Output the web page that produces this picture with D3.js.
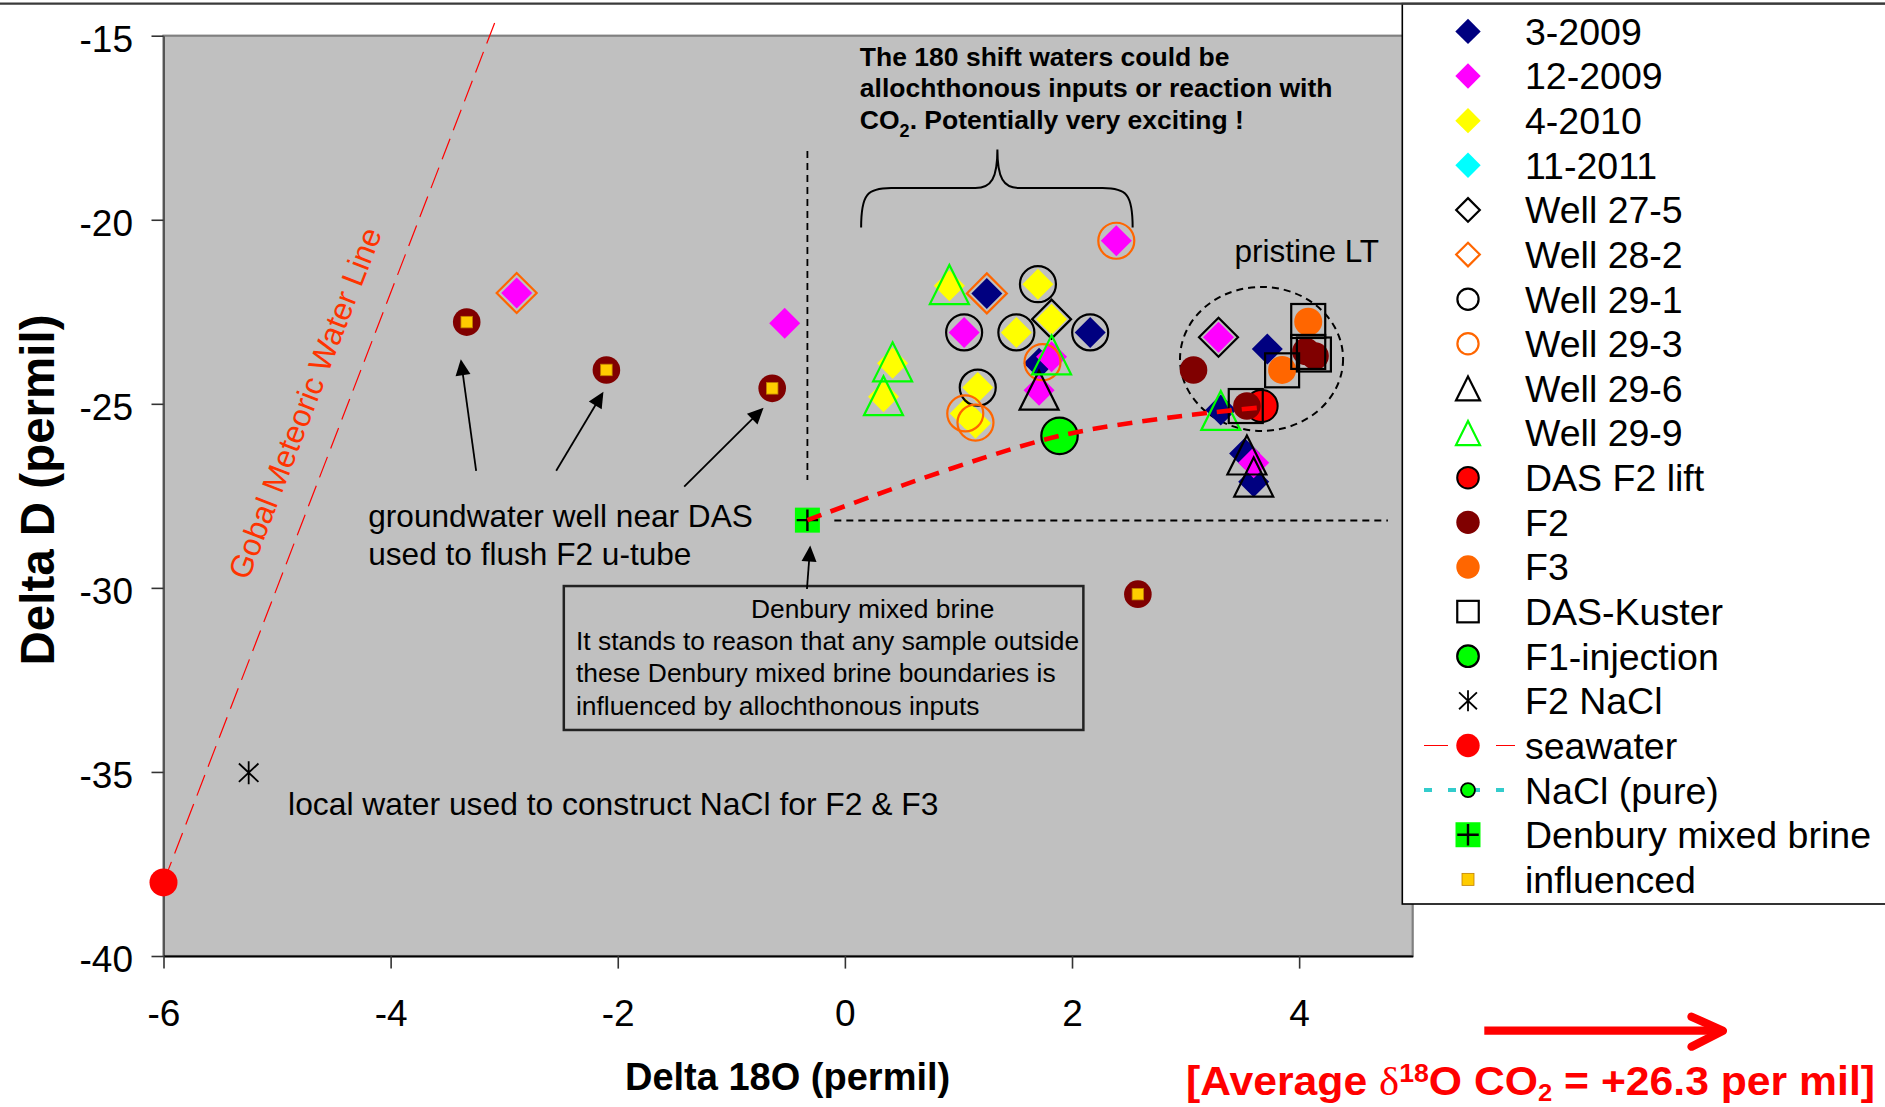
<!DOCTYPE html>
<html><head><meta charset="utf-8">
<script src="https://cdn.jsdelivr.net/npm/d3@7"></script>
<style>
html,body{margin:0;padding:0;background:#fff;}
svg{display:block;font-family:"Liberation Sans",Arial,sans-serif;}
</style></head><body>
<svg id="c" width="1885" height="1107"></svg>
<script>
// ---------------- DATA ----------------
const xTicks = [-6, -4, -2, 0, 2, 4];
const yTicks = [-15, -20, -25, -30, -35, -40];

const seriesNames = ['3-2009','12-2009','4-2010','11-2011','Well 27-5','Well 28-2','Well 29-1','Well 29-3',
  'Well 29-6','Well 29-9','DAS F2 lift','F2','F3','DAS-Kuster','F1-injection','F2 NaCl','seawater',
  'NaCl (pure)','Denbury mixed brine','influenced'];

const s3_2009   = [[1.25,-22.00],[2.16,-23.06],[1.71,-23.90],[3.72,-23.51],[3.31,-25.17],[3.52,-26.35],[3.60,-27.12]];
const s12_2009  = [[-2.89,-21.99],[-0.53,-22.81],[2.39,-20.57],[1.05,-23.06],[1.82,-23.72],[1.71,-24.63],[3.29,-23.19],[3.60,-26.60]];
const s4_2010   = [[0.92,-21.79],[1.70,-21.75],[1.82,-22.70],[1.51,-23.06],[0.42,-23.90],[0.34,-24.81],[1.17,-24.56],[1.06,-25.26],[1.15,-25.53]];
const s11_2011  = [];
const well27_5  = [[1.82,-22.70],[3.29,-23.19]];
const well28_2  = [[1.25,-22.00],[-2.89,-21.99]];
const well29_1  = [[1.70,-21.75],[1.05,-23.06],[1.51,-23.06],[2.16,-23.06],[1.17,-24.56]];
const well29_3  = [[2.39,-20.57],[1.74,-23.87],[1.06,-25.26],[1.15,-25.51]];
const well29_6  = [[1.71,-24.63],[3.54,-26.39],[3.60,-26.99]];
const well29_9  = [[0.92,-21.76],[1.82,-23.67],[0.42,-23.86],[0.34,-24.78],[3.31,-25.18]];
const dasF2lift = [[3.67,-25.06]];
const f2        = [[-3.33,-22.78],[-2.10,-24.08],[-0.64,-24.58],[2.58,-30.17],[3.07,-24.08],[4.06,-23.58],[4.14,-23.70],[3.54,-25.06]];
const f3        = [[4.08,-22.77],[3.85,-24.08]];
const dasKuster = [[4.08,-22.75],[4.08,-23.59],[4.13,-23.66],[3.85,-24.09],[3.53,-25.06]];
const f1inj     = [[1.89,-25.87]];
const f2NaCl    = [[-5.25,-35.02]];
const seawater  = [[-6,-38]];
const naclPure  = [];
const denbury   = [[-0.33,-28.16]];
const influenced= [[-3.33,-22.78],[-2.10,-24.08],[-0.64,-24.58],[2.58,-30.17]];

const gmwl      = [[-6,-38],[-3.07,-14.54]];          // Gobal Meteoric Water Line (seawater series line)
const mixLine   = [[-0.33,-28.16],[1.89,-25.87],[3.66,-25.10]];

const seriesData = [s3_2009,s12_2009,s4_2010,s11_2011,well27_5,well28_2,well29_1,well29_3,well29_6,well29_9,
  dasF2lift,f2,f3,dasKuster,f1inj,f2NaCl,seawater,naclPure,denbury,influenced];

// ---------------- STYLES ----------------
const styles = {
 '3-2009':      {t:'diamond', fill:'#000080', stroke:'none', sw:0, s:15.5, ls:12.7},
 '12-2009':     {t:'diamond', fill:'#FF00FF', stroke:'none', sw:0, s:15.5, ls:12.7},
 '4-2010':      {t:'diamond', fill:'#FFFF00', stroke:'none', sw:0, s:15.5, ls:12.7},
 '11-2011':     {t:'diamond', fill:'#00FFFF', stroke:'none', sw:0, s:15.5, ls:12.7},
 'Well 27-5':   {t:'diamond', fill:'none', stroke:'#000000', sw:2.2, s:19.5, ls:11.8},
 'Well 28-2':   {t:'diamond', fill:'none', stroke:'#FF6600', sw:2.2, s:20, ls:11.8},
 'Well 29-1':   {t:'circle', fill:'none', stroke:'#000000', sw:2.2, s:18, ls:10.6},
 'Well 29-3':   {t:'circle', fill:'none', stroke:'#FF6600', sw:2.2, s:18, ls:10.6},
 'Well 29-6':   {t:'triangle', fill:'none', stroke:'#000000', sw:2.2, s:39, ls:24},
 'Well 29-9':   {t:'triangle', fill:'none', stroke:'#00FF00', sw:2.2, s:39, ls:24},
 'DAS F2 lift': {t:'circle', fill:'#FF0000', stroke:'#000000', sw:2, s:16, ls:10.8},
 'F2':          {t:'circle', fill:'#800000', stroke:'none', sw:0, s:13.8, ls:11.7},
 'F3':          {t:'circle', fill:'#FF6600', stroke:'none', sw:0, s:14, ls:11.7},
 'DAS-Kuster':  {t:'square', fill:'none', stroke:'#000000', sw:2.2, s:34, ls:21.5},
 'F1-injection':{t:'circle', fill:'#00FF00', stroke:'#000000', sw:2.2, s:18.2, ls:10.8},
 'F2 NaCl':     {t:'star', fill:'none', stroke:'#000000', sw:1.8, s:11.5, ls:10.5},
 'seawater':    {t:'circle', fill:'#FF0000', stroke:'none', sw:0, s:14, ls:11.7},
 'NaCl (pure)': {t:'circle', fill:'#00FF00', stroke:'#000000', sw:1.8, s:7.5, ls:7},
 'Denbury mixed brine': {t:'plussq', fill:'#00FF00', stroke:'#000000', sw:2.4, s:25, ls:25},
 'influenced':  {t:'smallsq', fill:'#FFCC00', stroke:'#C08000', sw:0.8, s:11.5, ls:12}
};

// ---------------- SETUP ----------------
const W = 1885, H = 1107;
const svg = d3.select('#c');
const x = d3.scaleLinear().domain([-6, 5]).range([163.5, 1412.7]);
const y = d3.scaleLinear().domain([-40, -15]).range([956, 35.7]);
const FONT = '"Liberation Sans",Arial,sans-serif';

function marker(g, st, cx, cy, size) {
  let el;
  if (st.t === 'diamond') {
    el = g.append('path').attr('d', `M${cx},${cy-size}L${cx+size},${cy}L${cx},${cy+size}L${cx-size},${cy}Z`);
  } else if (st.t === 'circle') {
    el = g.append('circle').attr('cx', cx).attr('cy', cy).attr('r', size);
  } else if (st.t === 'triangle') {
    const h = size / 2;
    el = g.append('path').attr('d', `M${cx},${cy-h}L${cx+h},${cy+h}L${cx-h},${cy+h}Z`);
  } else if (st.t === 'square' || st.t === 'smallsq') {
    el = g.append('rect').attr('x', cx-size/2).attr('y', cy-size/2).attr('width', size).attr('height', size);
  } else if (st.t === 'star') {
    el = g.append('path').attr('d',
      `M${cx},${cy-size}L${cx},${cy+size}M${cx-size*0.85},${cy-size*0.8}L${cx+size*0.85},${cy+size*0.8}M${cx-size*0.85},${cy+size*0.8}L${cx+size*0.85},${cy-size*0.8}`);
  } else if (st.t === 'plussq') {
    g.append('rect').attr('x', cx-size/2).attr('y', cy-size/2).attr('width', size).attr('height', size).attr('fill', st.fill);
    const a = size * 0.43;
    g.append('path').attr('d', `M${cx-a},${cy}L${cx+a},${cy}M${cx},${cy-a}L${cx},${cy+a}`)
      .attr('stroke', st.stroke).attr('stroke-width', st.sw).attr('fill', 'none');
    return;
  }
  el.attr('fill', st.fill).attr('stroke', st.stroke).attr('stroke-width', st.sw);
}

// ---------------- PLOT AREA ----------------
svg.append('rect').attr('x', x(-6)).attr('y', y(-15))
  .attr('width', x(5) - x(-6)).attr('height', y(-40) - y(-15))
  .attr('fill', '#C0C0C0').attr('stroke', '#808080').attr('stroke-width', 2.2);

// axes
const gy = svg.append('g').attr('transform', `translate(${x(-6)},0)`)
  .call(d3.axisLeft(y).tickValues(yTicks).tickSize(12).tickSizeOuter(0).tickFormat(d3.format('d')));
gy.select('.domain').attr('stroke', '#555').attr('stroke-width', 2);
gy.selectAll('.tick line').attr('stroke', '#333').attr('stroke-width', 1.6);
gy.selectAll('.tick text').attr('x', -30.5).attr('dy', null).attr('y', 15.4)
  .attr('font-size', 37).attr('font-family', FONT).attr('fill', '#000')
  .text(d => d3.format('d')(d).replace('−', '-'));

const gx = svg.append('g').attr('transform', `translate(0,${y(-40)})`)
  .call(d3.axisBottom(x).tickValues(xTicks).tickSize(12.6).tickSizeOuter(0));
gx.select('.domain').attr('stroke', '#000').attr('stroke-width', 2.2);
gx.selectAll('.tick line').attr('stroke', '#333').attr('stroke-width', 1.6);
gx.selectAll('.tick text').attr('dy', null).attr('y', 70)
  .attr('font-size', 37).attr('font-family', FONT).attr('fill', '#000')
  .text(d => String(d));

// axis titles
svg.append('text').attr('transform', `translate(54,490) rotate(-90)`)
  .attr('text-anchor', 'middle').attr('font-size', 47.5).attr('font-weight', 'bold')
  .attr('font-family', FONT).text('Delta D (permil)');
svg.append('text').attr('x', 787.6).attr('y', 1089.5)
  .attr('text-anchor', 'middle').attr('font-size', 38).attr('font-weight', 'bold')
  .attr('font-family', FONT).text('Delta 18O (permil)');

// ---------------- ANNOTATIONS ----------------
const ann = svg.append('g');
// reference dashed lines (Denbury mixed brine boundaries)
ann.append('line').attr('x1', x(-0.33)).attr('x2', x(-0.33)).attr('y1', y(-18.13)).attr('y2', y(-27.07))
  .attr('stroke', '#000').attr('stroke-width', 1.8).attr('stroke-dasharray', '7,5');
ann.append('line').attr('x1', x(-0.093)).attr('x2', x(4.782)).attr('y1', y(-28.17)).attr('y2', y(-28.17))
  .attr('stroke', '#000').attr('stroke-width', 1.8).attr('stroke-dasharray', '7,5');

// pristine LT ellipse
const ecx = 3.669, ecy = -23.78, erx = 0.718, ery = 1.956;
ann.append('ellipse').attr('cx', x(ecx)).attr('cy', y(ecy))
  .attr('rx', x(ecx + erx) - x(ecx)).attr('ry', y(ecy - ery) - y(ecy))
  .attr('fill', 'none').attr('stroke', '#000').attr('stroke-width', 2).attr('stroke-dasharray', '7,5');
ann.append('text').attr('x', x(3.43)).attr('y', y(-21.16)).attr('font-size', 31.5)
  .attr('font-family', FONT).text('pristine LT');

// brace
{
  const xl = x(0.143), xm = x(1.343), xr = x(2.534), yb = y(-20.21), yh = y(-19.14), yt = y(-18.09);
  ann.append('path').attr('d',
    `M${xl},${yb} C${xl},${yh+6} ${xl+6},${yh} ${xl+30},${yh} L${xm-22},${yh} C${xm-6},${yh} ${xm},${yh-10} ${xm},${yt}` +
    ` C${xm},${yh-10} ${xm+6},${yh} ${xm+22},${yh} L${xr-30},${yh} C${xr-6},${yh} ${xr},${yh+6} ${xr},${yb}`)
    .attr('fill', 'none').attr('stroke', '#000').attr('stroke-width', 2);
}
// top bold note
{
  const t1 = ann.append('text').attr('font-size', 26.5).attr('font-weight', 'bold').attr('font-family', FONT);
  t1.append('tspan').attr('x', x(0.132)).attr('y', y(-15.82)).text('The 180 shift waters could be');
  t1.append('tspan').attr('x', x(0.132)).attr('y', y(-16.67)).text('allochthonous inputs or reaction with');
  const l3 = t1.append('tspan').attr('x', x(0.132)).attr('y', y(-17.54));
  l3.text('CO');
  t1.append('tspan').attr('font-size', 18).attr('dy', 8).text('2');
  t1.append('tspan').attr('dy', -8).text('. Potentially very exciting !');
}
// groundwater note
ann.append('text').attr('x', x(-4.197)).attr('y', y(-28.34)).attr('font-size', 31.6).attr('font-family', FONT)
  .text('groundwater well near DAS');
ann.append('text').attr('x', x(-4.197)).attr('y', y(-29.38)).attr('font-size', 31.6).attr('font-family', FONT)
  .text('used to flush F2 u-tube');
// local water note
ann.append('text').attr('x', x(-4.903)).attr('y', y(-36.17)).attr('font-size', 31.8).attr('font-family', FONT)
  .text('local water used to construct NaCl for F2 & F3');

// Denbury box
ann.append('rect').attr('x', x(-2.475)).attr('y', y(-29.95))
  .attr('width', x(2.100) - x(-2.475)).attr('height', y(-33.86) - y(-29.95))
  .attr('fill', 'none').attr('stroke', '#222').attr('stroke-width', 2.5);
ann.append('text').attr('x', x(-0.827)).attr('y', y(-30.81)).attr('font-size', 26.4).attr('font-family', FONT)
  .text('Denbury mixed brine');
[['It stands to reason that any sample outside', -31.70],
 ['these Denbury mixed brine boundaries is', -32.56],
 ['influenced by allochthonous inputs', -33.44]].forEach(([t, yy]) => {
  ann.append('text').attr('x', x(-2.368)).attr('y', y(yy)).attr('font-size', 26.4).attr('font-family', FONT).text(t);
});

// arrows
function arrow(g, x1, y1, x2, y2, len, hw, color, sw) {
  const dx = x2 - x1, dy = y2 - y1, L = Math.hypot(dx, dy), ux = dx / L, uy = dy / L;
  const bx = x2 - ux * len, by = y2 - uy * len;
  g.append('line').attr('x1', x1).attr('y1', y1).attr('x2', bx + ux * 2).attr('y2', by + uy * 2)
    .attr('stroke', color).attr('stroke-width', sw);
  g.append('path').attr('d', `M${x2},${y2}L${bx - uy * hw},${by + ux * hw}L${bx + uy * hw},${by - ux * hw}Z`)
    .attr('fill', color);
}
[[-3.247, -26.82, -3.382, -23.79],
 [-2.542, -26.82, -2.126, -24.67],
 [-1.415, -27.25, -0.716, -25.11],
 [-0.334, -30.03, -0.305, -28.85]].forEach(a => arrow(ann, x(a[0]), y(a[1]), x(a[2]), y(a[3]), 16, 7.5, '#000', 1.8));

// GMWL line (seawater series line) and its label
const lineGen = d3.line().x(d => x(d[0])).y(d => y(d[1]));
svg.append('path').attr('d', lineGen(gmwl)).attr('fill', 'none')
  .attr('stroke', '#FF0000').attr('stroke-width', 1.2).attr('stroke-dasharray', '22,9');
{
  const ang = Math.atan2(y(gmwl[1][1]) - y(gmwl[0][1]), x(gmwl[1][0]) - x(gmwl[0][0])) * 180 / Math.PI;
  svg.append('text').attr('transform', `translate(${x(-4.754)},${y(-24.98)}) rotate(${ang})`)
    .attr('text-anchor', 'middle').attr('dominant-baseline', 'central')
    .attr('font-size', 31.5).attr('font-family', FONT).attr('fill', '#FF3300')
    .text('Gobal Meteoric Water Line');
}

// ---------------- MARKERS ----------------
const mg = svg.append('g');
seriesNames.forEach((name, i) => {
  const st = styles[name];
  seriesData[i].forEach(d => marker(mg, st, x(d[0]), y(d[1]), st.s));
});

// mixing line (drawn on top)
svg.append('path').attr('d', d3.line().x(d => x(d[0])).y(d => y(d[1])).curve(d3.curveCatmullRom.alpha(0.5))(mixLine))
  .attr('fill', 'none').attr('stroke', '#FF0000').attr('stroke-width', 4.6).attr('stroke-dasharray', '15,10');

// ---------------- LEGEND ----------------
const lg = svg.append('g');
lg.append('rect').attr('x', 1402.3).attr('y', 3.6).attr('width', 500).attr('height', 904 - 3.6)
  .attr('fill', '#fff').attr('stroke', '#000').attr('stroke-width', 1.6);
const rowY = i => 31.4 + i * 44.63;
seriesNames.forEach((name, i) => {
  const st = styles[name];
  const cy = rowY(i);
  if (name === 'seawater') {
    lg.append('line').attr('x1', 1424).attr('x2', 1515).attr('y1', cy).attr('y2', cy)
      .attr('stroke', '#FF0000').attr('stroke-width', 1.2).attr('stroke-dasharray', '24,48');
  }
  if (name === 'NaCl (pure)') {
    lg.append('line').attr('x1', 1424).attr('x2', 1515).attr('y1', cy).attr('y2', cy)
      .attr('stroke', '#33CCCC').attr('stroke-width', 4).attr('stroke-dasharray', '8,16');
  }
  marker(lg, st, 1468, cy, st.ls);
  lg.append('text').attr('x', 1525).attr('y', cy + 13.4).attr('font-size', 37.5).attr('font-family', FONT)
    .text(name);
});

// top frame line
svg.append('line').attr('x1', 0).attr('x2', W).attr('y1', 3.6).attr('y2', 3.6)
  .attr('stroke', '#3a3a3a').attr('stroke-width', 2.2);

// ---------------- RED CO2 NOTE ----------------
svg.append('line').attr('x1', 1484.3).attr('x2', 1719).attr('y1', 1030.7).attr('y2', 1030.7)
  .attr('stroke', '#FF0000').attr('stroke-width', 8.3);
svg.append('path').attr('d', 'M1691.5,1016.7L1722.9,1030.7L1691.5,1046.7')
  .attr('fill', 'none').attr('stroke', '#FF0000').attr('stroke-width', 8.3)
  .attr('stroke-linecap', 'round').attr('stroke-linejoin', 'round');
{
  const rt = svg.append('text').attr('x', 1186).attr('y', 1095).attr('fill', '#FF0000')
    .attr('font-weight', 'bold').attr('font-size', 40).attr('font-family', FONT)
    .attr('textLength', 689).attr('lengthAdjust', 'spacingAndGlyphs');
  rt.append('tspan').text('[Average ');
  rt.append('tspan').attr('font-family', '"Liberation Serif","DejaVu Serif",serif').attr('font-weight', 'normal').text('δ');
  rt.append('tspan').attr('font-size', 25).attr('dy', -13).text('18');
  rt.append('tspan').attr('dy', 13).text('O CO');
  rt.append('tspan').attr('font-size', 24).attr('dy', 6).text('2');
  rt.append('tspan').attr('dy', -6).text(' = +26.3 per mil]');
}
</script>
</body></html>
